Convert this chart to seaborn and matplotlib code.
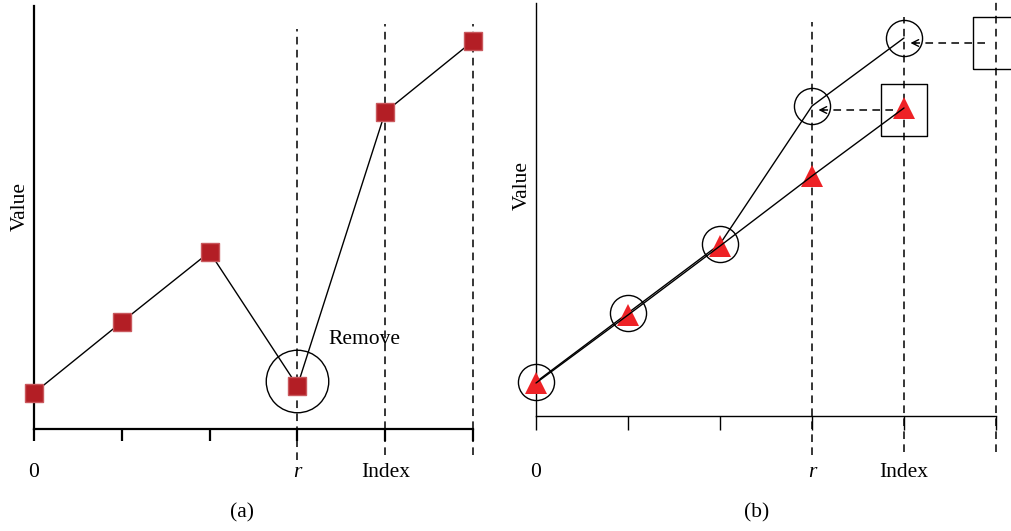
import matplotlib
matplotlib.use('Agg')
import matplotlib.pyplot as plt
import seaborn as sns
import pandas as pd

# ── data (value units, index positions) ───────────────────────────────────────
idx_a = [0, 1, 2, 3, 4, 5]
val_a = [0.9, 2.675, 4.425, 1.075, 7.925, 9.7]
removed_idx = 3
removed_ring = 1.2

idx_b = [0, 1, 2, 3, 4]
tri_b = [0.825, 2.525, 4.25, 6.0, 7.7]
circ_b = [0.85, 2.575, 4.3, 7.75, 9.45]
box_idx = [4, 5]
box_val = [7.65, 9.325]

tick_idx = [0, 1, 2, 3, 4, 5]
tick_lbl = ['0', '', '', 'r', 'Index', '']
guide_idx = [3, 4, 5]

# ── style ────────────────────────────────────────────────────────────────────
sns.set_style('ticks', rc={'axes.edgecolor': 'black', 'xtick.color': 'black',
                           'text.color': 'black', 'axes.labelcolor': 'black'})
plt.rcParams['font.family'] = ['Liberation Serif', 'DejaVu Serif']
FS = 15.5

fig = plt.figure(figsize=(10.11, 5.31), dpi=100)
W, H = 1011, 531

# ── panel (a) ────────────────────────────────────────────────────────────────
ax_a = fig.add_axes([34 / W, (H - 429) / H, 439 / W, 423 / H])
df_a = pd.DataFrame({'idx': idx_a, 'val': val_a})

guides_a = {3: (-0.775, 10.0), 4: (-0.65, 10.125), 5: (-0.65, 10.125)}
for g in guide_idx:
    lo, hi = guides_a[g]
    ax_a.plot([g, g], [lo, hi], color='black', lw=1.1, ls=(0, (5, 3.5)),
              clip_on=False, zorder=1)

sns.lineplot(data=df_a, x='idx', y='val', ax=ax_a, color='black', lw=1.0,
             marker='s', markersize=13, markerfacecolor='#B31E25',
             markeredgecolor='#C9585D', markeredgewidth=1.0, clip_on=False,
             zorder=3)
ax_a.plot([removed_idx], [removed_ring], marker='o', markersize=45,
          markerfacecolor='none', markeredgecolor='black',
          markeredgewidth=1.0, clip_on=False, zorder=4)
ax_a.text(3.35, 2.225, 'Remove', fontsize=FS, ha='left', va='center')

ax_a.set_xlim(0, 5)
ax_a.set_ylim(0, 10.575)
ax_a.set_xticks(tick_idx, tick_lbl)
ax_a.set_yticks([])
ax_a.tick_params(axis='x', direction='out', length=8.6, width=1.6,
                 pad=16, labelsize=FS)
for s in ['top', 'right']:
    ax_a.spines[s].set_visible(False)
for s in ['left', 'bottom']:
    ax_a.spines[s].set_linewidth(1.6)
ax_a.set_xlabel('')
ax_a.set_ylabel('Value', fontsize=FS)
ax_a.yaxis.set_label_coords(-0.009, 0.527)
ax_a.get_xticklabels()[3].set_style('italic')

# ── panel (b) ────────────────────────────────────────────────────────────────
ax_b = fig.add_axes([536 / W, (H - 416) / H, 460 / W, 413 / H])
df_b = pd.DataFrame({'idx': idx_b, 'tri': tri_b, 'circ': circ_b})

guides_b = {3: (-0.975, 9.85), 4: (-0.9, 9.975), 5: (-0.9, 10.4)}
for g in guide_idx:
    lo, hi = guides_b[g]
    ax_b.plot([g, g], [lo, hi], color='black', lw=1.1, ls=(0, (5, 3.5)),
              clip_on=False, zorder=1)

sns.lineplot(data=df_b, x='idx', y='circ', ax=ax_b, color='black', lw=1.0,
             marker='o', markersize=26, markerfacecolor='none',
             markeredgecolor='black', markeredgewidth=1.0, clip_on=False,
             zorder=2)
# red triangles under the connecting line
sns.lineplot(data=df_b, x='idx', y='tri', ax=ax_b, lw=0,
             marker='^', markersize=16, markerfacecolor='#EE2226',
             markeredgecolor='#EE2226', markeredgewidth=0, clip_on=False,
             zorder=3)
sns.lineplot(data=df_b, x='idx', y='tri', ax=ax_b, color='black', lw=1.0,
             clip_on=False, zorder=4)

rect = [(-0.44, -0.5), (0.44, -0.5), (0.44, 0.5), (-0.44, 0.5), (-0.44, -0.5)]
ax_b.plot(box_idx, box_val, ls='none', marker=rect, markersize=37,
          markerfacecolor='none', markeredgecolor='black',
          markeredgewidth=1.0, clip_on=False, zorder=2)

# dashed arrows from each box back to the previous index
for bi, bv in zip(box_idx, box_val):
    tail, head = bi - 0.12, bi - 1 + 0.07
    ax_b.plot([tail, head + 0.04], [bv, bv], color='black', lw=1.1,
              ls=(0, (5, 3.5)), clip_on=False, zorder=2)
    ax_b.annotate('', xy=(head, bv), xytext=(head + 0.06, bv),
                  arrowprops=dict(arrowstyle='->', lw=1.0, color='black',
                                  shrinkA=0, shrinkB=0, mutation_scale=12),
                  annotation_clip=False)

ax_b.set_xlim(0, 5)
ax_b.set_ylim(0, 10.325)
ax_b.set_xticks(tick_idx, tick_lbl)
ax_b.set_yticks([])
ax_b.tick_params(axis='x', direction='out', length=10, width=1.0,
                 pad=24, labelsize=FS)
for s in ['top', 'right']:
    ax_b.spines[s].set_visible(False)
for s in ['left', 'bottom']:
    ax_b.spines[s].set_linewidth(1.0)
ax_b.set_xlabel('')
ax_b.set_ylabel('Value', fontsize=FS)
ax_b.yaxis.set_label_coords(-0.009, 0.558)
ax_b.get_xticklabels()[3].set_style('italic')

# ── panel captions ───────────────────────────────────────────────────────────
fig.text(242 / W, (H - 513) / H, '(a)', fontsize=FS, ha='center', va='center')
fig.text(757 / W, (H - 513) / H, '(b)', fontsize=FS, ha='center', va='center')

fig.savefig('out.png', dpi=100)
